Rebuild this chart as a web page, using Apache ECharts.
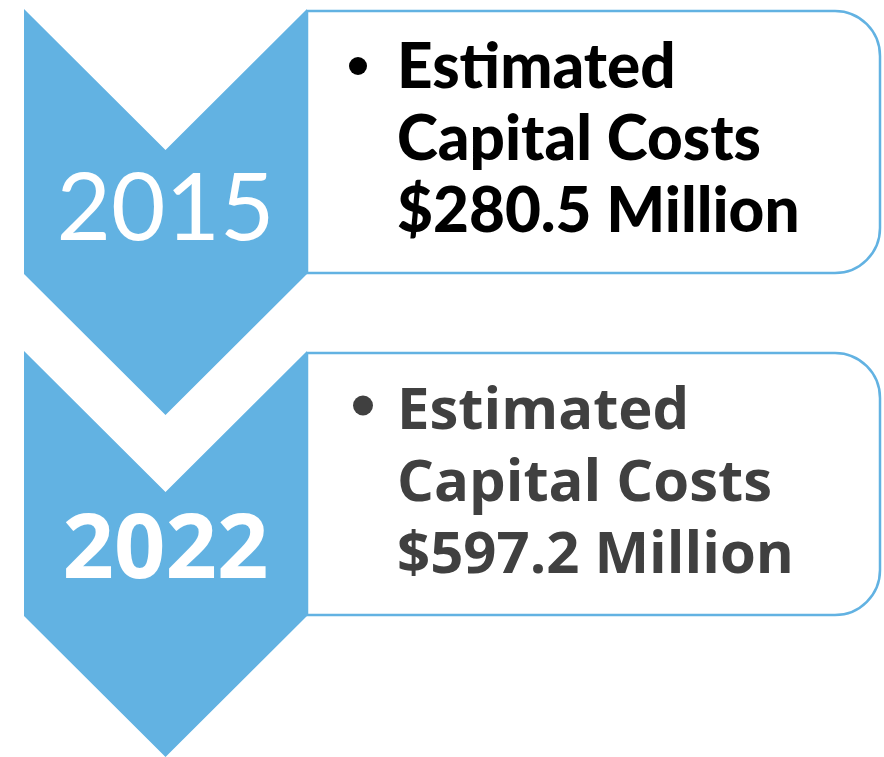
<!DOCTYPE html>
<html>
<head>
<meta charset="utf-8">
<script src="https://cdn.jsdelivr.net/npm/echarts@6/dist/echarts.min.js"></script>
<style>
  html, body { margin: 0; padding: 0; background: #fff; }
  #chart { width: 884px; height: 757px; }
</style>
</head>
<body>
<div id="chart"></div>
<script>
(() => {
  "use strict";
  // data
  const years = ["2015", "2022"];
  const costs = [280.5, 597.2]; // $ million
  const lines = ["Estimated", "Capital Costs"];

  // looks per step (first one geometric black, second grey)
  const LOOK = [
    { yearFamily: "Lato, sans-serif", yearWeight: "normal", yearSize: 94, textColor: "#000", textFamily: "Lato, sans-serif", textWeight: 900, textSize: 62, dot: [358, 57, 9] },
    { yearFamily: "'Open Sans', sans-serif", yearWeight: "bold", yearSize: 90, textColor: "#404040", textFamily: "'Open Sans', sans-serif", textWeight: "bold", textSize: 58, dot: [363, 54.5, 10] },
  ];
  const BLUE = "#62b2e2";

  const chart = echarts.init(document.getElementById("chart"), null, { renderer: "canvas" });

  function renderItem(params, api) {
    const i = params.dataIndex;
    const look = LOOK[i];
    const mid = api.coord([0, api.value(1)]);
    const band = api.size([0, 1])[1];
    const bt = mid[1] - band / 2; // top of this step
    const x0 = mid[0] + 24, x1 = mid[0] + 307, cx = (x0 + x1) / 2;
    const notch = 141, body = 265;
    const cost = "$" + costs[i].toFixed(1) + " Million";
    const txt = (t, y) => ({
      type: "text",
      style: { text: t, x: 397, y: bt + y, fill: look.textColor, fontSize: look.textSize, fontWeight: look.textWeight, fontFamily: look.textFamily, align: "left", verticalAlign: "bottom" },
    });
    return {
      type: "group",
      children: [
        { type: "rect", shape: { x: 307, y: bt + 2, width: 573, height: 262, r: [0, 45, 45, 0] }, style: { fill: "#fff", stroke: BLUE, lineWidth: 2.5 } },
        { type: "polygon", shape: { points: [[x0, bt], [cx, bt + notch], [x1, bt], [x1, bt + body], [cx, bt + body + notch], [x0, bt + body]] }, style: { fill: BLUE } },
        { type: "text", style: { text: years[i], x: cx, y: bt + 201, fill: "#fff", fontSize: look.yearSize, fontWeight: look.yearWeight, fontFamily: look.yearFamily, align: "center", verticalAlign: "middle" } },
        { type: "circle", shape: { cx: look.dot[0], cy: bt + look.dot[1], r: look.dot[2] }, style: { fill: look.textColor } },
        txt(lines[0], 90),
        txt(lines[1], 162),
        txt(cost, 234),
      ],
    };
  }

  chart.setOption({
    animation: false,
    grid: { left: 0, right: 0, top: 9, bottom: 64 },
    xAxis: { type: "value", min: 0, max: 884, show: false },
    yAxis: { type: "category", data: years, inverse: true, show: false },
    series: [{
      type: "custom",
      renderItem,
      data: years.map((y, i) => [0, i]),
    }],
  });
})();
</script>
</body>
</html>
